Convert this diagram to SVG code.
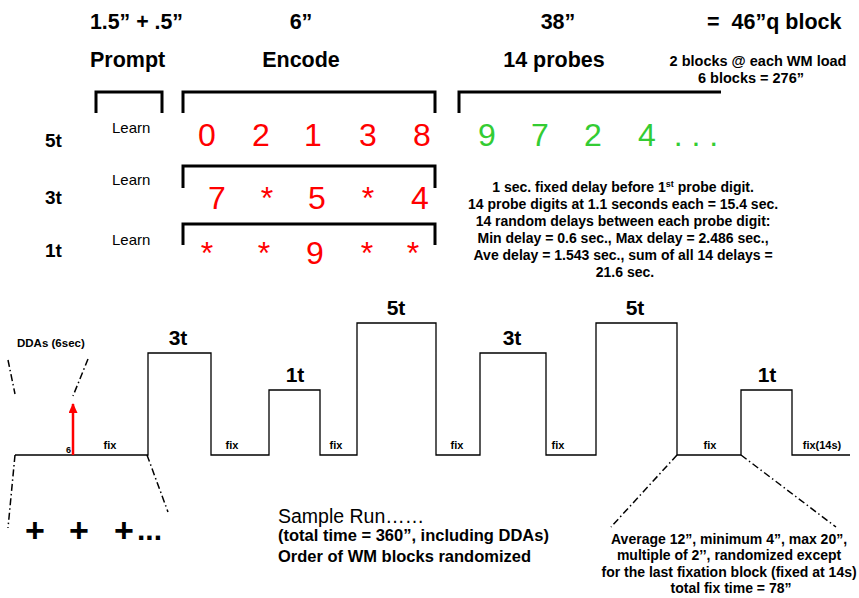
<svg xmlns="http://www.w3.org/2000/svg" width="859" height="598" viewBox="0 0 859 598">
<style>
text{font-family:"Liberation Sans",Arial,sans-serif;fill:#000}
.h{font-size:21.5px;font-weight:bold}
.b{font-weight:bold}
.lrn{font-size:15px}
.row{font-size:19px;font-weight:bold}
.red{fill:#ff0000;font-size:32px}
.grn{fill:#33cc33;font-size:32px}
.info{font-size:14px;font-weight:bold}
.fix{font-size:11px;font-weight:bold}
.blk{font-size:21px;font-weight:bold}
.brk{fill:none;stroke:#000;stroke-width:3}
.tl{fill:none;stroke:#000;stroke-width:1.3}
.dd{fill:none;stroke:#000;stroke-width:1.5;stroke-dasharray:7 3 1.5 3}
</style>
<defs>
<marker id="ah" markerWidth="10" markerHeight="9" refX="9" refY="4.5" orient="auto" markerUnits="userSpaceOnUse" viewBox="0 0 10 9">
<path d="M0,0 L10,4.5 L0,9 Z" fill="#ff0000"/>
</marker>
</defs>

<g id="header">
<text class="h" x="90" y="29" textLength="93" lengthAdjust="spacingAndGlyphs">1.5” + .5”</text>
<text class="h" x="301" y="29" text-anchor="middle">6”</text>
<text class="h" x="558" y="29" text-anchor="middle">38”</text>
<text class="h" x="707" y="29" style="white-space:pre">=  46”q block</text>
<text class="h" x="90" y="67">Prompt</text>
<text class="h" x="301" y="67" text-anchor="middle">Encode</text>
<text class="h" x="554" y="67" text-anchor="middle">14 probes</text>
<text class="b" x="758" y="66" text-anchor="middle" font-size="14.5">2 blocks @ each WM load</text>
<text class="b" x="751" y="83" text-anchor="middle" font-size="14.5">6 blocks = 276”</text>
</g>

<g id="brackets">
<path class="brk" d="M96,113 V92 H162 V113"/>
<path class="brk" d="M183,113 V92 H435 V113"/>
<path class="brk" d="M459,113 V92 H721"/>
<path class="brk" d="M183,188 V166 H435 V188"/>
<path class="brk" d="M183,245 V224 H435 V245"/>
</g>

<g id="row5t">
<text class="row" x="45" y="147">5t</text>
<text class="lrn" x="112" y="133">Learn</text>
<text class="red" text-anchor="middle"><tspan x="207" y="146">0</tspan><tspan x="261" y="146">2</tspan><tspan x="313" y="146">1</tspan><tspan x="368" y="146">3</tspan><tspan x="422" y="146">8</tspan></text>
<text class="grn" text-anchor="middle"><tspan x="487" y="146">9</tspan><tspan x="540" y="146">7</tspan><tspan x="593" y="146">2</tspan><tspan x="647" y="146">4</tspan><tspan x="696" y="146">. . .</tspan></text>
</g>

<g id="row3t">
<text class="row" x="45" y="204">3t</text>
<text class="lrn" x="112" y="185">Learn</text>
<text class="red" text-anchor="middle"><tspan x="217" y="209">7</tspan><tspan x="267" y="209">*</tspan><tspan x="317" y="209">5</tspan><tspan x="368" y="209">*</tspan><tspan x="420" y="209">4</tspan></text>
</g>

<g id="row1t">
<text class="row" x="45" y="257">1t</text>
<text class="lrn" x="112" y="245">Learn</text>
<text class="red" text-anchor="middle"><tspan x="207" y="264">*</tspan><tspan x="264" y="264">*</tspan><tspan x="315" y="264">9</tspan><tspan x="367" y="264">*</tspan><tspan x="413" y="264">*</tspan></text>
</g>

<g id="probe-info">
<text class="info" text-anchor="middle">
<tspan x="625" y="192">1 sec. fixed delay before 1<tspan font-size="9" dy="-5">st</tspan><tspan dy="5"> probe digit.</tspan></tspan>
<tspan x="625" y="209">14 probe digits at 1.1 seconds each = 15.4 sec.</tspan>
<tspan x="625" y="226">14 random delays between each probe digit:</tspan>
<tspan x="625" y="243">Min delay = 0.6 sec., Max delay = 2.486 sec.,</tspan>
<tspan x="625" y="260">Ave delay = 1.543 sec., sum of all 14 delays =</tspan>
<tspan x="625" y="277">21.6 sec.</tspan>
</text>
</g>

<g id="timeline">
<path class="tl" d="M15,455 H148 V353 H211 V455 H269 V390 H320 V455 H357 V323 H436 V455 H480 V353 H546 V455 H596 V323 H677 V455 H741 V390 H792 V455 H850"/>
<text class="blk" x="178" y="345" text-anchor="middle">3t</text>
<text class="blk" x="295" y="382" text-anchor="middle">1t</text>
<text class="blk" x="396" y="315" text-anchor="middle">5t</text>
<text class="blk" x="512" y="345" text-anchor="middle">3t</text>
<text class="blk" x="635" y="315" text-anchor="middle">5t</text>
<text class="blk" x="767" y="382" text-anchor="middle">1t</text>
<text class="fix" x="110" y="449" text-anchor="middle">fix</text>
<text class="fix" x="232" y="449" text-anchor="middle">fix</text>
<text class="fix" x="336" y="449" text-anchor="middle">fix</text>
<text class="fix" x="457" y="449" text-anchor="middle">fix</text>
<text class="fix" x="558" y="449" text-anchor="middle">fix</text>
<text class="fix" x="710" y="449" text-anchor="middle">fix</text>
<text class="fix" x="822" y="449" text-anchor="middle">fix(14s)</text>
</g>

<g id="dda">
<text class="b" x="17" y="347" font-size="11.5">DDAs (6sec)</text>
<text class="b" x="66" y="453" font-size="9">6</text>
<line x1="73" y1="455" x2="73" y2="404" stroke="#ff0000" stroke-width="2.5" marker-end="url(#ah)"/>
</g>

<g id="connectors">
<line class="dd" x1="8" y1="360" x2="15" y2="394"/>
<line class="dd" x1="88" y1="359" x2="73" y2="396"/>
<line class="dd" x1="15" y1="455" x2="8" y2="528"/>
<line class="dd" x1="147" y1="455" x2="168" y2="512"/>
<line class="dd" x1="677" y1="455" x2="611" y2="527"/>
<line class="dd" x1="741" y1="455" x2="836" y2="527"/>
</g>

<g id="fixation">
<text class="b" font-size="34" text-anchor="middle"><tspan x="35" y="542">+</tspan><tspan x="79" y="542">+</tspan><tspan x="124" y="542">+</tspan></text>
<text class="b" font-size="30" x="137" y="540">...</text>
</g>

<g id="sample-run">
<text x="278" y="523" font-size="19.5">Sample Run……</text>
<text class="b" x="278" y="541" font-size="16.5">(total time = 360”, including DDAs)</text>
<text class="b" x="278" y="562" font-size="16.5">Order of WM blocks randomized</text>
</g>

<g id="fix-info">
<text class="b" text-anchor="middle" font-size="14">
<tspan x="731" y="544">Average 12”, minimum 4”, max 20”,</tspan>
<tspan x="731" y="560">multiple of 2’’, randomized except</tspan>
<tspan x="731" y="577">for the last fixation block (fixed at 14s)</tspan>
<tspan x="731" y="593">total fix time = 78”</tspan>
</text>
</g>
</svg>
